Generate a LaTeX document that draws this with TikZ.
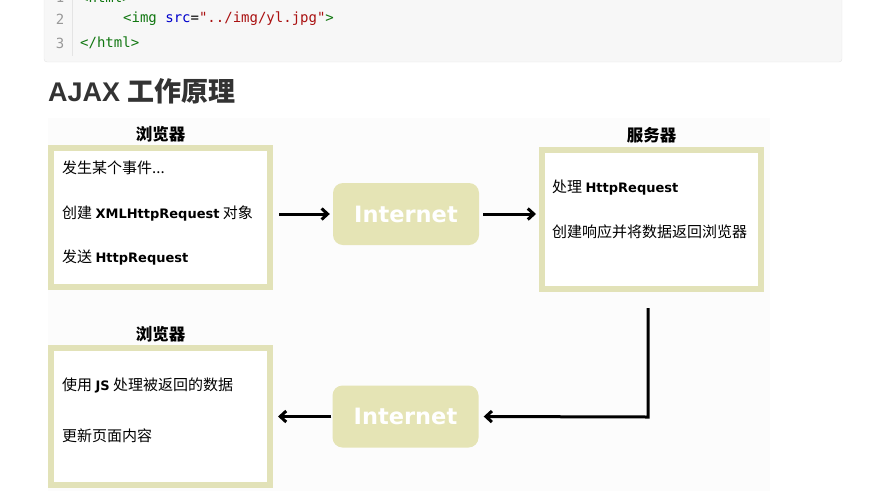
\documentclass[tikz,border=0pt]{standalone}
\usepackage{fontspec}
\setmainfont{Liberation Sans}
\newfontfamily\cjk{Noto Sans CJK SC}
\newfontfamily\lat{DejaVu Sans}
\newfontfamily\mono{DejaVu Sans Mono}
\usetikzlibrary{arrows.meta,positioning}
\definecolor{frame}{RGB}{226,226,184}
\definecolor{netfill}{RGB}{229,228,181}
\definecolor{pagebg}{RGB}{252,252,252}
\definecolor{codebg}{RGB}{247,247,247}
\definecolor{codeline}{RGB}{228,228,228}
\definecolor{tagc}{RGB}{17,119,17}
\definecolor{attc}{RGB}{0,0,204}
\definecolor{strc}{RGB}{170,17,17}
\definecolor{numc}{RGB}{153,153,153}
\definecolor{headc}{RGB}{51,51,51}
\newcommand\en[1]{{\lat\bfseries\fontsize{13}{16}\selectfont #1}}

\begin{document}
\begin{tikzpicture}[x=1pt,y=-1pt,
    panel/.style={draw=frame,line width=6pt,fill=white,minimum width=219pt,minimum height=139pt},
    net/.style={fill=netfill,rounded corners=10pt,minimum width=146pt,minimum height=62pt,
      text=white,font=\lat\bfseries\fontsize{22.5}{26}\selectfont},
    ttl/.style={inner sep=0pt,font=\cjk\bfseries\fontsize{16.5}{19}\selectfont},
    txt/.style={anchor=west,inner sep=0pt,font=\cjk\fontsize{15}{18}\selectfont},
    codetxt/.style={anchor=west,inner sep=0pt,font=\mono\fontsize{14}{17}\selectfont},
    num/.style={inner sep=0pt,text=numc,font=\mono\fontsize{14}{17}\selectfont},
    arr/.style={line width=3pt,-{Straight Barb[length=6pt,width=11pt]}},
   ]
   \useasboundingbox (0,0) rectangle (873,491);
   \clip (0,0) rectangle (873,491);
   % code block
   \draw[codeline,fill=codebg,rounded corners=3pt] (44,-20) rectangle (842,62);
   \draw[codeline] (72,-20) -- (72,56);
   \node[num] (n1) at (60,-3) {1};
   \node[num] (n2) at (60,19) {2};
   \node[num] (n3) at (60,43) {3};
   \node[codetxt,text=tagc] (c1) at (80,-3) {<html>};
   \node[codetxt] (c2) at (123,19) {{\color{tagc}<img} {\color{attc}src}={\color{strc}"../img/yl.jpg"}{\color{tagc}>}};
   \node[codetxt,text=tagc] (c3) at (80,43) {</html>};
   % heading
   \node[anchor=west,inner sep=0pt,text=headc,font=\bfseries\fontsize{27}{32}\selectfont] (head)
     at (48,91) {AJAX {\cjk\bfseries 工作原理}};
   % picture
   \fill[pagebg] (48,118) rectangle (770,491);
   \node[panel] (b1) at (160.5,217.5) {};
   \node[panel] (srv) at (651.5,219.5) {};
   \node[panel,minimum height=137pt] (b2) at (160.5,416.5) {};
   \node[net] (net1) at (406,214) {Internet};
   \node[net] (net2) at (405.5,416.5) {Internet};
   \node[ttl,above=3pt of b1] (t1) {浏览器};
   \node[ttl,above=4pt of srv] (t2) {服务器};
   \node[ttl,above=3pt of b2] (t3) {浏览器};
   \node[txt] (l1) at (62,168) {发生某个事件...};
   \node[txt] (l2) at (62,214) {创建 \en{XMLHttpRequest} 对象};
   \node[txt] (l3) at (62,258) {发送 \en{HttpRequest}};
   \node[txt] (s1) at (552,188) {处理 \en{HttpRequest}};
   \node[txt] (s2) at (552,232) {创建响应并将数据返回浏览器};
   \node[txt] (r1) at (62,385) {使用 \en{JS} 处理被返回的数据};
   \node[txt] (r2) at (62,436) {更新页面内容};
   \coordinate (turn) at (648,417);
   \draw[arr,shorten <=6pt,shorten >=3pt] (b1.east |- net1) -- (net1.west);
   \draw[arr,shorten <=4pt,shorten >=3pt] (net1.east) -- (srv.west |- net1);
   \draw[arr,shorten <=16pt,shorten >=5pt] (srv.south -| turn) -- (turn) -- (net2.east);
   \draw[arr,shorten <=1pt,shorten >=5pt] (net2.west) -- (b2.east |- net2);
\end{tikzpicture}
\end{document}
